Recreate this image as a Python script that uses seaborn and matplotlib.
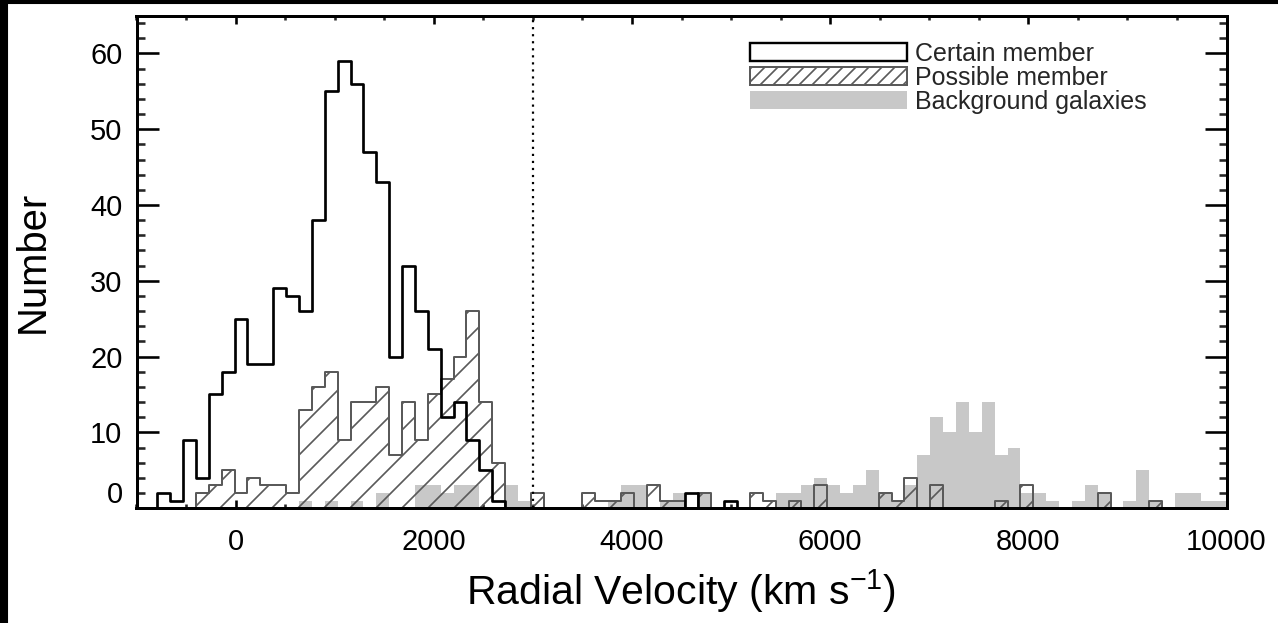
import numpy as np
import pandas as pd
import matplotlib
matplotlib.use("Agg")
import matplotlib.pyplot as plt
import matplotlib.patches as mpatches
from matplotlib.ticker import MultipleLocator
import seaborn as sns

# ---------------- data (counts per 130 km/s bin, first bin starts at -790) ----------------
bin_start = -790
bin_width = 130

certain_counts = [
    2, 1, 9, 4, 15, 18, 25, 19, 19, 29,
    28, 26, 38, 55, 59, 56, 47, 43, 20, 32,
    26, 21, 12, 14, 9, 5, 1, 0, 0, 0,
    0, 0, 0, 0, 0, 0, 0, 0, 0, 0,
    0, 2, 0, 0, 1, 0, 0, 0, 0, 0,
    0, 0, 0, 0, 0, 0, 0, 0, 0, 0,
    0, 0, 0, 0, 0, 0, 0, 0, 0, 0,
    0, 0, 0, 0, 0, 0, 0, 0, 0, 0,
    0, 0, 0,
]
possible_counts = [
    0, 0, 0, 2, 3, 5, 2, 4, 3, 3,
    2, 13, 16, 18, 9, 14, 14, 16, 7, 14,
    9, 15, 17, 20, 26, 14, 6, 0, 0, 2,
    0, 0, 0, 2, 1, 1, 2, 0, 3, 1,
    1, 0, 2, 0, 0, 0, 2, 1, 0, 1,
    0, 3, 0, 0, 0, 0, 2, 1, 4, 0,
    3, 0, 0, 0, 0, 1, 0, 3, 0, 0,
    0, 0, 0, 2, 0, 0, 0, 1, 0, 0,
    0, 0, 0,
]
background_counts = [
    0, 0, 0, 0, 0, 0, 0, 0, 0, 0,
    0, 1, 0, 1, 0, 1, 0, 2, 0, 0,
    3, 3, 2, 3, 3, 0, 0, 3, 1, 0,
    0, 0, 0, 0, 0, 1, 3, 3, 0, 1,
    2, 0, 2, 0, 0, 0, 0, 0, 2, 2,
    3, 4, 3, 2, 3, 5, 2, 1, 3, 7,
    12, 10, 14, 10, 14, 7, 8, 2, 2, 1,
    0, 1, 3, 2, 0, 1, 5, 1, 0, 2,
    2, 1, 1,
]
x_ticks = [0, 2000, 4000, 6000, 8000, 10000]
y_ticks = [0, 10, 20, 30, 40, 50, 60]
legend_labels = ["Certain member", "Possible member", "Background galaxies"]
boundary_velocity = 3000
x_label = "Radial Velocity (km s$^{\\mathrm{-1}}$)"
y_label = "Number"

# ---------------- style ----------------
DPI = 78
W, H = 1278, 623


def pt(px):
    return px * 72.0 / DPI


sns.set_theme(style="white")
plt.rcParams["font.family"] = ["Liberation Sans", "DejaVu Sans"]
plt.rcParams["mathtext.fontset"] = "custom"
plt.rcParams["mathtext.rm"] = "Liberation Sans"
plt.rcParams["mathtext.it"] = "Liberation Sans:italic"
plt.rcParams["mathtext.bf"] = "Liberation Sans:bold"
plt.rcParams["hatch.linewidth"] = pt(1.7)
plt.rcParams["hatch.color"] = "#5a5a5a"

n_bins = len(certain_counts)
edges = [float(bin_start + bin_width * i) for i in range(n_bins + 1)]
centers = [e + bin_width / 2.0 for e in edges[:-1]]

df = pd.DataFrame({
    "velocity": centers,
    "certain": np.asarray(certain_counts, dtype=float),
    "possible": np.asarray(possible_counts, dtype=float),
    "background": np.asarray(background_counts, dtype=float),
})

fig = plt.figure(figsize=(W / DPI, H / DPI), dpi=DPI, facecolor="white")
ax = fig.add_axes([136.5 / W, 1 - 508.2 / H, (1226.5 - 136.5) / W, (508.2 - 15.5) / H])
ax.set_facecolor("white")

sns.histplot(data=df, x="velocity", weights="background", bins=edges, element="step",
             fill=True, color="#c8c8c8", alpha=1, linewidth=0, ax=ax, zorder=1)
sns.histplot(data=df, x="velocity", weights="possible", bins=edges, element="step",
             fill=True, color="#5a5a5a", facecolor="none", edgecolor="#5a5a5a", hatch="/",
             linewidth=pt(2.0), ax=ax, zorder=2)
sns.histplot(data=df, x="velocity", weights="certain", bins=edges, element="step",
             fill=True, color="black", facecolor="none", edgecolor="black",
             linewidth=pt(2.7), ax=ax, zorder=3)

ax.axvline(boundary_velocity, color="black", linestyle=(0, (1, 2.2)),
           linewidth=pt(2.2), zorder=4)

ax.set_xlim(-1000, 10000)
ax.set_ylim(0, 65)

# ticks
ax.set_xticks(x_ticks)
ax.xaxis.set_minor_locator(MultipleLocator(500))
ax.set_yticks(y_ticks)
ax.set_yticklabels([""] + [str(v) for v in y_ticks[1:]])
ax.yaxis.set_minor_locator(MultipleLocator(2))

tick_fs = pt(29)
ax.tick_params(axis="y", which="major", direction="in", length=pt(22), width=pt(2.6),
               left=True, right=True, labelsize=tick_fs, pad=pt(14), colors="black")
ax.tick_params(axis="y", which="minor", direction="in", length=pt(8), width=pt(2.6),
               left=True, right=True)
ax.tick_params(axis="x", which="major", direction="in", length=pt(8), width=pt(2.6),
               top=True, bottom=True, labelsize=tick_fs, pad=pt(20), colors="black")
ax.tick_params(axis="x", which="minor", direction="in", length=pt(4), width=pt(2.6),
               top=True, bottom=True)

ax.annotate(str(y_ticks[0]), xy=(0, y_ticks[0]), xycoords=ax.get_yaxis_transform(),
            xytext=(-pt(14), pt(13)), textcoords="offset points",
            ha="right", va="center", fontsize=tick_fs, color="black")

for s in ax.spines.values():
    s.set_linewidth(pt(3))
    s.set_color("black")
    s.set_visible(True)

ax.set_xlabel(x_label, fontsize=pt(41), color="black")
ax.set_ylabel(y_label, fontsize=pt(40), color="black")
ax.xaxis.set_label_coords(0.5, (508.2 - 567) / 492.7)
ax.yaxis.set_label_coords((52 - 136.5) / 1090.0, 0.5)

# legend
handles = [
    mpatches.Patch(facecolor="white", edgecolor="black", linewidth=pt(2.4)),
    mpatches.Patch(facecolor="white", edgecolor="#5a5a5a", hatch="//", linewidth=pt(2.0)),
    mpatches.Patch(facecolor="#c8c8c8", edgecolor="none", linewidth=0),
]
leg_px = 25.0
ax.legend(handles, legend_labels, loc="upper left",
          bbox_to_anchor=((750 - 136.5) / 1090.0, (508.2 - 42) / 492.7),
          frameon=False, fontsize=pt(leg_px), handlelength=157 / leg_px,
          handleheight=18 / leg_px, handletextpad=8 / leg_px, labelspacing=0.0,
          borderpad=0, borderaxespad=0)

# screenshot border (black band on left and top of the picture)
fig.add_artist(mpatches.Rectangle((0, 0), 7 / W, 1, transform=fig.transFigure,
                                  color="black", zorder=10))
fig.add_artist(mpatches.Rectangle((0, 1 - 3 / H), 1, 3 / H, transform=fig.transFigure,
                                  color="black", zorder=10))

fig.savefig("out.png", dpi=DPI, facecolor="white")
